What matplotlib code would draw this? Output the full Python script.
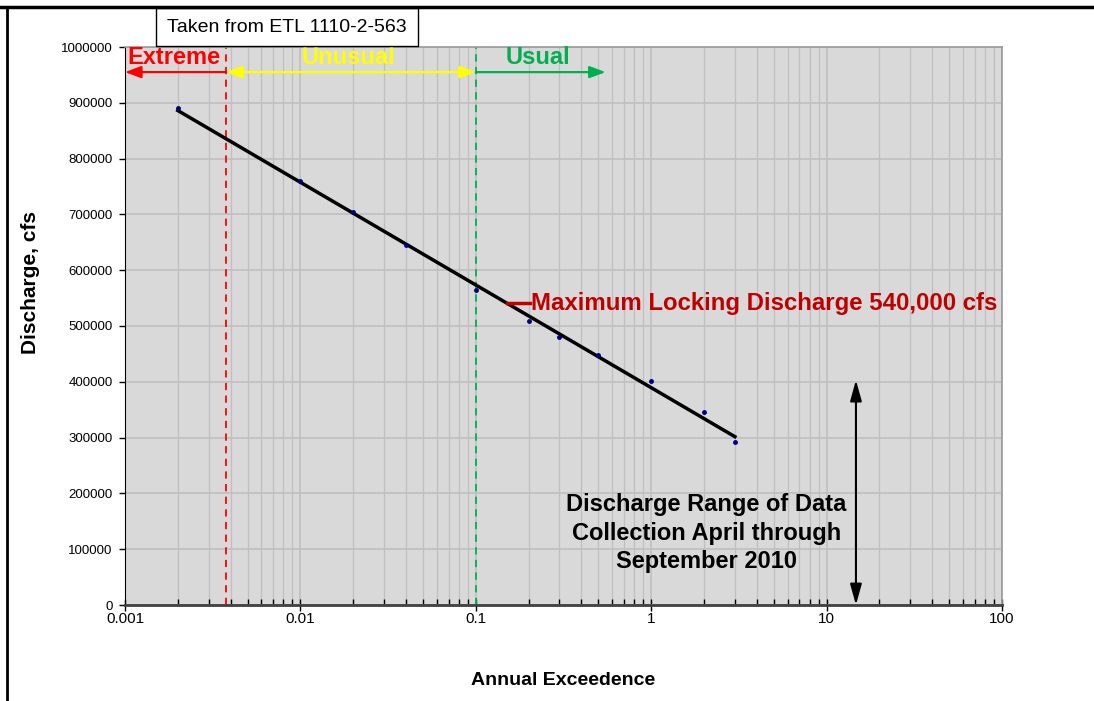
import numpy as np
import matplotlib.pyplot as plt
from matplotlib.lines import Line2D
from matplotlib.patches import Rectangle
from matplotlib.ticker import LogLocator, FixedLocator, NullFormatter

plt.rcParams['font.family'] = ['Liberation Sans', 'DejaVu Sans']

# data
exceedence = [0.002, 0.01, 0.02, 0.04, 0.1, 0.2, 0.3, 0.5, 1, 2, 3]
discharge = [890000, 760000, 704000, 645000, 565000, 509000, 480000, 448000, 401000, 346000, 292000]

extreme_limit = 0.00377
usual_limit = 0.1
usual_arrow_end = 0.55
zone_arrow_y = 955000
max_locking = 541000
range_x = 14.7
range_top = 403000

x_ticks = [0.001, 0.01, 0.1, 1, 10, 100]
x_tick_labels = ["0.001", "0.01", "0.1", "1", "10", "100"]
y_ticks = list(range(0, 1000001, 100000))

W, H = 1094, 701
fig = plt.figure(figsize=(W / 100, H / 100), dpi=100)
ax = fig.add_axes([125 / W, (H - 605) / H, (1002 - 125) / W, (605 - 47) / H])
ax.set_facecolor("#D9D9D9")

ax.set_xscale("log")
ax.set_xlim(0.001, 100)
ax.set_ylim(0, 1000000)
ax.xaxis.set_major_locator(FixedLocator(x_ticks))
ax.set_xticklabels(x_tick_labels)
ax.xaxis.set_minor_locator(LogLocator(base=10, subs=np.arange(2, 10)))
ax.xaxis.set_minor_formatter(NullFormatter())
ax.set_yticks(y_ticks)
ax.set_yticklabels([str(v) for v in y_ticks])

ax.grid(which="major", axis="both", color="#BFBFBF", lw=1.2)
ax.grid(which="minor", axis="x", color="#BFBFBF", lw=0.9)
ax.set_axisbelow(True)

ax.tick_params(axis="x", which="major", direction="inout", length=8, width=1, labelsize=11, pad=1)
ax.tick_params(axis="x", which="minor", direction="in", length=4, width=1)
ax.tick_params(axis="y", which="major", direction="out", length=4, width=1, labelsize=9.5, pad=5)

for side in ["top", "right"]:
    ax.spines[side].set_color("#999999")
    ax.spines[side].set_linewidth(1.2)
ax.spines["left"].set_color("black")
ax.spines["bottom"].set_color("#404040")
ax.spines["bottom"].set_linewidth(2)

# trend line (log fit)
coef = np.polyfit(np.log10(exceedence), discharge, 1)
xf = np.array([min(exceedence), max(exceedence)])
ax.plot(xf, np.polyval(coef, np.log10(xf)), color="black", lw=2.5, zorder=3)
ax.plot(exceedence, discharge, "o", color="#000080", ms=2.5, zorder=4)

# zone lines and arrows
ax.axvline(extreme_limit, color="red", ls=(0, (4, 3)), lw=1.3)
ax.axvline(usual_limit, color="#00B050", ls=(0, (4, 3)), lw=1.3)

head = "head_length=0.8,head_width=0.3"
ax.annotate("", xy=(0.001, zone_arrow_y), xytext=(extreme_limit, zone_arrow_y),
            arrowprops=dict(arrowstyle="-|>," + head, color="red", lw=1.6, mutation_scale=12,
                            shrinkA=0, shrinkB=0))
ax.annotate("", xy=(usual_limit, zone_arrow_y), xytext=(extreme_limit, zone_arrow_y),
            arrowprops=dict(arrowstyle="<|-|>," + head, color="#FFFF00", lw=1.6, mutation_scale=12,
                            shrinkA=0, shrinkB=0))
ax.annotate("", xy=(usual_arrow_end, zone_arrow_y), xytext=(usual_limit, zone_arrow_y),
            arrowprops=dict(arrowstyle="-|>," + head, color="#00B050", lw=1.6, mutation_scale=12,
                            shrinkA=0, shrinkB=0))

ax.text(np.sqrt(0.001 * extreme_limit) * 0.98, 982000, "Extreme", color="red", fontsize=17,
        fontweight="bold", ha="center", va="center")
ax.text(0.0188, 982000, "Unusual", color="#FFFF00", fontsize=17,
        fontweight="bold", ha="center", va="center")
ax.text(0.225, 982000, "Usual", color="#00B050", fontsize=17,
        fontweight="bold", ha="center", va="center")

# maximum locking discharge
ax.plot([0.151, 0.205], [max_locking, max_locking], color="#C00000", lw=2.5, zorder=5)
ax.text(0.207, max_locking, "Maximum Locking Discharge 540,000 cfs", color="#C00000",
        fontsize=17.3, fontweight="bold", ha="left", va="center")

# data collection range
ax.annotate("", xy=(range_x, range_top), xytext=(range_x, 0),
            arrowprops=dict(arrowstyle="<|-|>,head_length=0.9,head_width=0.25", color="black",
                            lw=1.5, mutation_scale=14, shrinkA=0, shrinkB=0))
ax.text(2.07, 129000, "Discharge Range of Data\nCollection April through\nSeptember 2010",
        fontsize=17, fontweight="bold", ha="center", va="center", linespacing=1.3)

ax.set_xlabel("Annual Exceedence", fontsize=14, fontweight="bold", labelpad=33)
ax.set_ylabel("Discharge, cfs", fontsize=15, fontweight="bold")
ax.yaxis.set_label_coords((40 - 125) / 877, (605 - 283) / 558)

# source box and page frame
fig.patches.append(Rectangle((156 / W, (H - 46) / H), (418 - 156) / W, 38 / H,
                             transform=fig.transFigure, facecolor="white", edgecolor="black", lw=1))
fig.text(287 / W, (H - 27) / H, "Taken from ETL 1110-2-563", fontsize=14, ha="center", va="center")
fig.lines.append(Line2D([0, 1], [(H - 7) / H] * 2, transform=fig.transFigure, color="black", lw=2.5))
fig.lines.append(Line2D([7 / W] * 2, [0, (H - 7) / H], transform=fig.transFigure, color="black", lw=2))

fig.savefig("out.png", dpi=100)
